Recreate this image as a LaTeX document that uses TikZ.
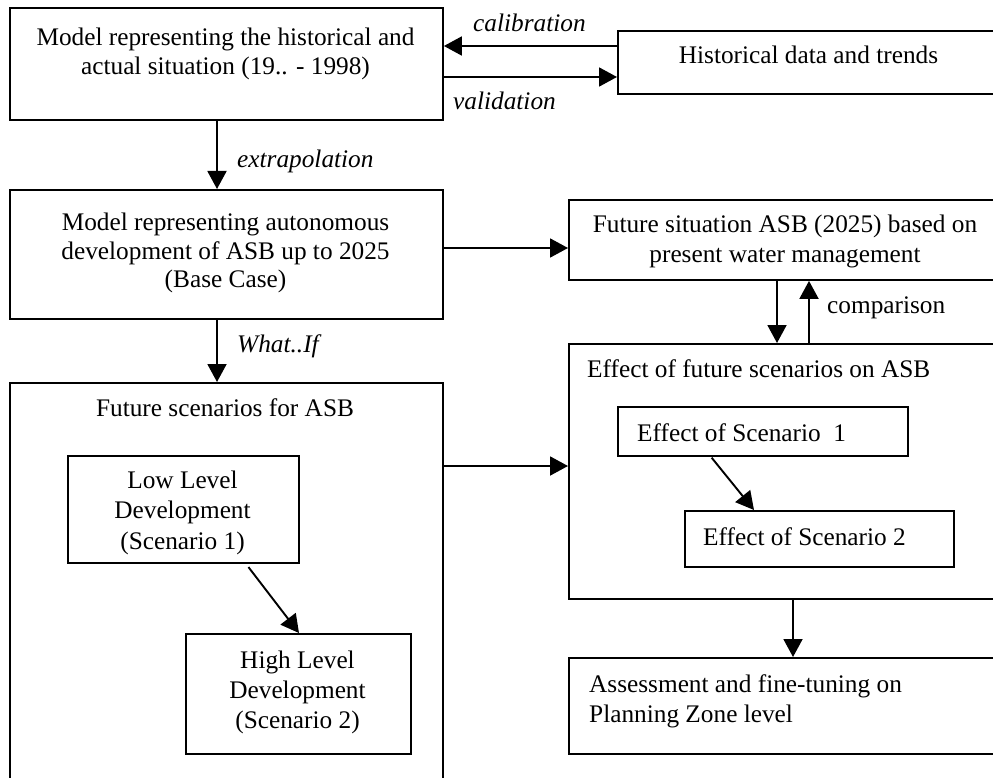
\documentclass[tikz,border=0pt]{standalone}
\usepackage{fontspec}
\setmainfont{Liberation Serif}
\usetikzlibrary{arrows.meta}
\begin{document}
\begin{tikzpicture}[x=1pt,y=-1pt,
  box/.style={draw,line width=1.9pt,rectangle,inner sep=0pt,anchor=north west},
  txt/.style={inner sep=0pt,anchor=base,font=\fontsize{25.3}{29}\selectfont},
  txtl/.style={txt,anchor=base west},
  lbl/.style={txtl,font=\fontsize{25.3}{29}\selectfont\itshape},
  arr/.style={line width=1.9pt,-{Triangle[length=18pt,width=19pt]}}]
\useasboundingbox (0,0) rectangle (993,778);

% boxes
\node[box,minimum width=433pt,minimum height=112pt] (a) at (9,7) {};
\node[box,minimum width=420pt,minimum height=63pt]  (b) at (617,30) {};
\node[box,minimum width=433pt,minimum height=129pt] (c) at (9,189) {};
\node[box,minimum width=450pt,minimum height=80pt]  (d) at (568,199) {};
\node[box,minimum width=433pt,minimum height=420pt] (e) at (9,382) {};
\node[box,minimum width=231pt,minimum height=107pt] (f) at (67,455) {};
\node[box,minimum width=225pt,minimum height=120pt] (g) at (185,633) {};
\node[box,minimum width=450pt,minimum height=255pt] (h) at (568,343) {};
\node[box,minimum width=290pt,minimum height=49pt]  (i) at (617,406) {};
\node[box,minimum width=269pt,minimum height=56pt]  (j) at (684,510) {};
\node[box,minimum width=450pt,minimum height=96pt]  (k) at (568,657) {};

% box texts
\node[txt] (a1) at (225.5,45.5) {Model representing the historical and};
\node[txt] (a2) at (225.5,74.5) {actual situation (19.. - 1998)};
\node[txt] (b1) at (808.5,64) {Historical data and trends};
\node[txt] (c1) at (225.5,230) {Model representing autonomous};
\node[txt] (c2) at (225.5,259) {development of ASB up to 2025};
\node[txt] (c3) at (225.5,287) {(Base Case)};
\node[txt] (d1) at (785,233) {Future situation ASB (2025) based on};
\node[txt] (d2) at (785,262) {present water management};
\node[txt] (e1) at (225,416) {Future scenarios for ASB};
\node[txt] (f1) at (182.5,488) {Low Level};
\node[txt] (f2) at (182.5,518) {Development};
\node[txt] (f3) at (182.5,549) {(Scenario 1)};
\node[txt] (g1) at (297.5,668) {High Level};
\node[txt] (g2) at (297.5,698) {Development};
\node[txt] (g3) at (297.5,728) {(Scenario 2)};
\node[txtl] (h1) at (587,377) {Effect of future scenarios on ASB};
\node[txtl] (i1) at (637,441) {Effect of Scenario\hspace{0.5em}1};
\node[txtl] (j1) at (703,545) {Effect of Scenario 2};
\node[txtl] (k1) at (589,692) {Assessment and fine-tuning on};
\node[txtl] (k2) at (589,722) {Planning Zone level};

% connector labels
\node[lbl] (lcal) at (473,32) {calibration};
\node[lbl] (lval) at (453,110) {validation};
\node[lbl] (lext) at (237,168) {extrapolation};
\node[lbl] (lwi)  at (237,352) {What..If};
\node[txtl] (lcmp) at (827,313) {comparison};

% connectors
\draw[arr] (b.west |- 0,46) -- (a.east |- 0,46);
\draw[arr] (a.east |- 0,77) -- (b.west |- 0,77);
\draw[arr] (a.south -| 217,0) -- (c.north -| 217,0);
\draw[arr] (c.east |- 0,248) -- (d.west |- 0,248);
\draw[arr] (c.south -| 217,0) -- (e.north -| 217,0);
\draw[arr] (d.south -| 777,0) -- (h.north -| 777,0);
\draw[arr] (h.north -| 809,0) -- (d.south -| 809,0);
\draw[arr] (e.east |- 0,466) -- (h.west |- 0,466);
\draw[arr,shorten <=4pt] (f.south -| 246,0) -- (g.north -| 299,0);
\draw[arr,shorten <=1pt] (i.south -| 711,0) -- (j.north -| 754,0);
\draw[arr] (h.south -| 793,0) -- (k.north -| 793,0);
\end{tikzpicture}
\end{document}
